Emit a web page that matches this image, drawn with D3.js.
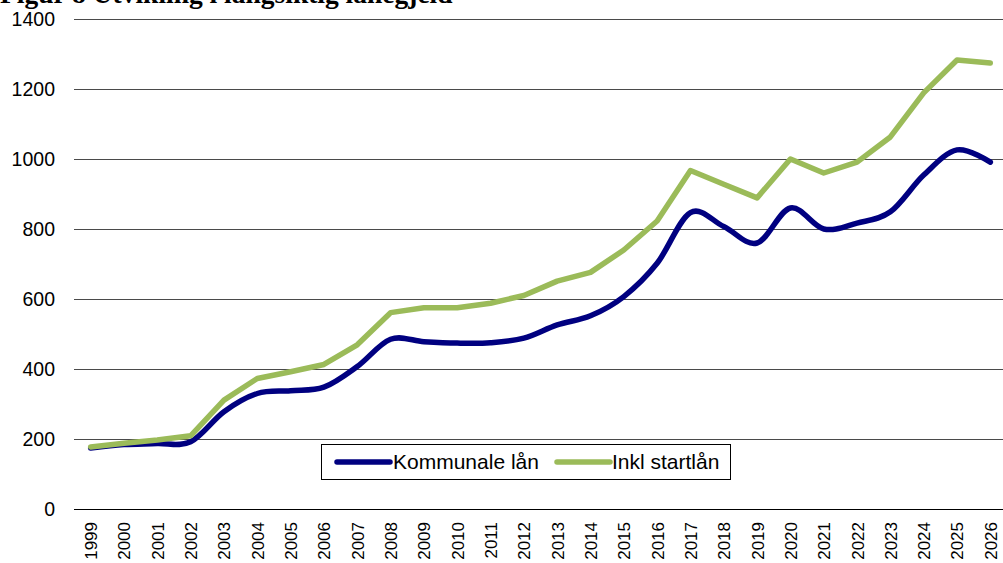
<!DOCTYPE html>
<html>
<head>
<meta charset="utf-8">
<script src="https://cdn.jsdelivr.net/npm/d3@7"></script>
<style>
  html, body { margin: 0; padding: 0; background: #fff; overflow: hidden; }
  svg { display: block; }
</style>
</head>
<body>
<svg id="chart" width="1003" height="563"></svg>
<script>
const title = "Figur 8 Utvikling i langsiktig lånegjeld";
const years = ["1999","2000","2001","2002","2003","2004","2005","2006","2007","2008","2009","2010","2011","2012","2013","2014","2015","2016","2017","2018","2019","2020","2021","2022","2023","2024","2025","2026"];
const kommunaleLan = [174,184,187,192,278,330,338,348,407,485,478,474,475,488,526,552,607,702,847,807,760,860,800,817,849,954,1026,991];
const inklStartlan = [177,188,197,209,311,373,392,413,469,561,575,575,588,610,651,676,740,823,967,928,889,1000,960,991,1063,1189,1283,1274];
const yTicks = [0,200,400,600,800,1000,1200,1400];
const seriesNames = ["Kommunale lån", "Inkl startlån"];

(function () {
const svg = d3.select("#chart");
const mLeft = 74, mRight = 1007, mTop = 19, mBottom = 509;

const x = d3.scalePoint().domain(years).range([mLeft, mRight]).padding(0.5);
const y = d3.scaleLinear().domain([0, 1400]).range([mBottom, mTop]);

// title (cut at top, as in the reference)
svg.append("text").attr("x", 0).attr("y", 3)
  .attr("font-family", "Liberation Serif, Times New Roman, serif")
  .attr("font-weight", "bold").attr("font-size", 27.5)
  .text(title);

// gridlines
const yAxis = d3.axisLeft(y).tickValues(yTicks).tickSize(-(mRight - mLeft)).tickPadding(19).tickFormat(d3.format("d"));
const gy = svg.append("g").attr("transform", `translate(${mLeft},0)`).call(yAxis);
gy.select(".domain").remove();
gy.selectAll(".tick line").attr("stroke", "#4a4a4a").attr("stroke-width", 1);
gy.selectAll(".tick text").attr("font-family", "Liberation Sans, Arial, sans-serif").attr("font-size", 19.5).attr("fill", "#000");

// x axis
const xAxis = d3.axisBottom(x).tickSize(0).tickPadding(0);
const gx = svg.append("g").attr("transform", `translate(0,${mBottom})`).call(xAxis);
gx.select(".domain").attr("stroke", "#000").attr("d", `M${mLeft},0.5H${mRight}`);
gx.selectAll(".tick text")
  .attr("font-family", "Liberation Sans, Arial, sans-serif").attr("font-size", 17).attr("fill", "#000")
  .attr("transform", "rotate(-90)")
  .attr("text-anchor", "end")
  .attr("dy", "0.35em")
  .attr("x", -13).attr("y", 0);

// lines
const lineSmooth = d3.line().x((d, i) => x(years[i])).y(d => y(d)).curve(d3.curveCatmullRom.alpha(0));
const lineStraight = d3.line().x((d, i) => x(years[i])).y(d => y(d));

svg.append("path").datum(kommunaleLan).attr("d", lineSmooth)
  .attr("fill", "none").attr("stroke", "#000080").attr("stroke-width", 5.5)
  .attr("stroke-linecap", "round").attr("stroke-linejoin", "round");
svg.append("path").datum(inklStartlan).attr("d", lineStraight)
  .attr("fill", "none").attr("stroke", "#9BBB59").attr("stroke-width", 5.5)
  .attr("stroke-linecap", "round").attr("stroke-linejoin", "round");

// legend
const lg = svg.append("g");
lg.append("rect").attr("x", 321.5).attr("y", 444.5).attr("width", 409).attr("height", 35)
  .attr("fill", "#fff").attr("stroke", "#000").attr("stroke-width", 1);
const legendItems = [
  {name: seriesNames[0], color: "#000080", x1: 337, x2: 390, tx: 393},
  {name: seriesNames[1], color: "#9BBB59", x1: 557, x2: 610, tx: 612}
];
legendItems.forEach(it => {
  lg.append("line").attr("x1", it.x1).attr("x2", it.x2).attr("y1", 462).attr("y2", 462)
    .attr("stroke", it.color).attr("stroke-width", 5.5).attr("stroke-linecap", "round");
  lg.append("text").attr("x", it.tx).attr("y", 462).attr("dy", "0.35em")
    .attr("font-family", "Liberation Sans, Arial, sans-serif").attr("font-size", 21).attr("fill", "#000")
    .text(it.name);
});
})();
</script>
</body>
</html>
